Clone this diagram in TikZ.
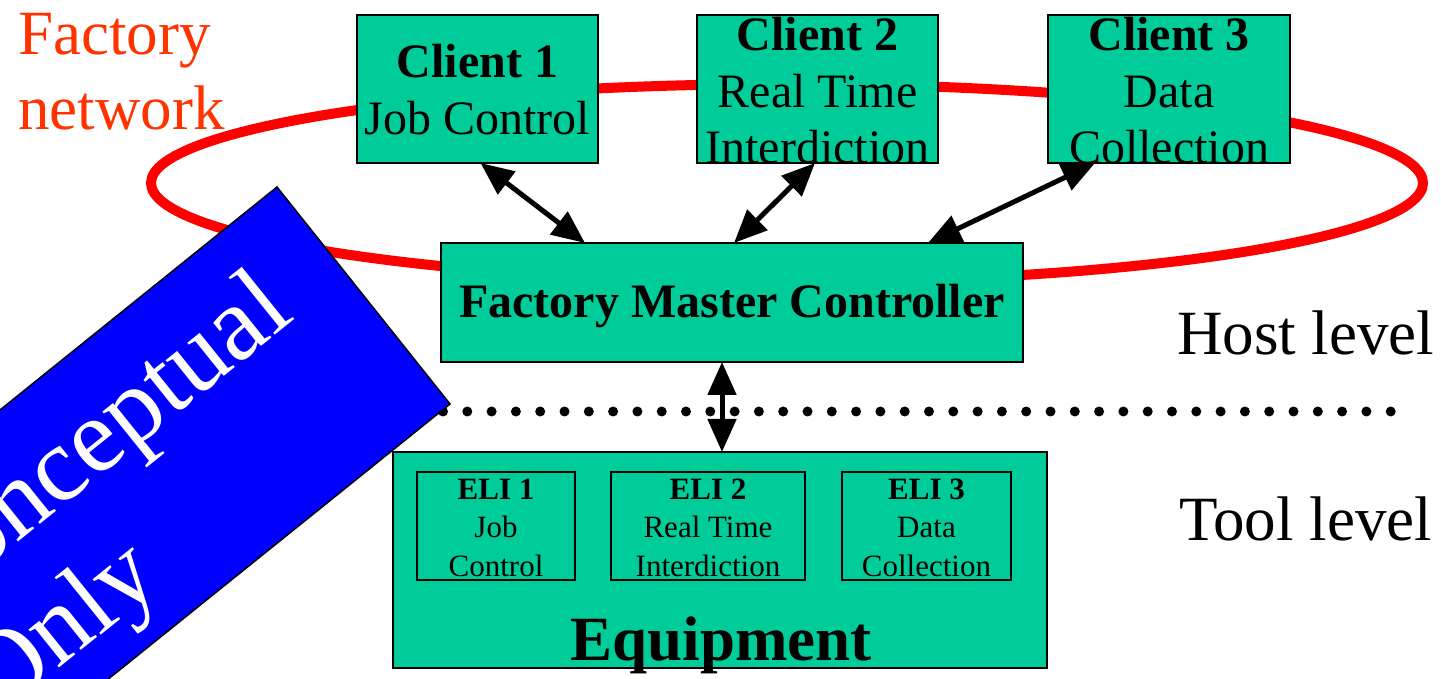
\documentclass[tikz,border=0pt]{standalone}
\usepackage{fontspec}
\setmainfont{Liberation Serif}
\usetikzlibrary{arrows.meta,calc}
\definecolor{boxgreen}{RGB}{0,204,153}
\definecolor{netred}{RGB}{255,0,0}
\definecolor{netlabel}{RGB}{255,51,0}
\definecolor{noteblue}{RGB}{0,0,255}
\begin{document}
\begin{tikzpicture}[x=1pt,y=1pt,
  box/.style={draw=black, line width=2pt, fill=boxgreen, inner sep=0pt, outer sep=0pt},
  bigtxt/.style={anchor=base, inner sep=0pt, font=\fontsize{48}{57}\selectfont},
  bigbold/.style={anchor=base, inner sep=0pt, font=\fontsize{48}{57}\selectfont\bfseries},
  elitxt/.style={anchor=base, inner sep=0pt, font=\fontsize{31}{37}\selectfont},
  elibold/.style={anchor=base, inner sep=0pt, font=\fontsize{31}{37}\selectfont\bfseries},
  sidetxt/.style={anchor=base west, inner sep=0pt, font=\fontsize{63}{75}\selectfont},
  dbl/.style={line width=5pt, {Triangle[length=33pt,width=28pt]}-{Triangle[length=33pt,width=28pt]}},
  notetxt/.style={anchor=base west, inner sep=0pt, rotate=38.8, text=white, font=\fontsize{106}{125}\selectfont}
]
\useasboundingbox (0,0) rectangle (1441,678);
\clip (0,0) rectangle (1441,678);

% factory network ring
\draw[netred, line width=10pt] (787,495) ellipse [x radius=636pt, y radius=99pt];

% dotted separator
\coordinate (dotA) at (443,266.5);
\coordinate (dotB) at (1391,266.5);
\draw[line width=10pt, line cap=round, dash pattern=on 0pt off 24.3pt] (dotA) -- (dotB);

% client boxes
\node[box, minimum width=241pt, minimum height=148pt] (c1) at (477.5,589) {};
\node[box, minimum width=241pt, minimum height=148pt] (c2) at (817.5,589) {};
\node[box, minimum width=242pt, minimum height=148pt] (c3) at (1169,589) {};
\node[bigbold] (c1a) at (477.5,600) {Client 1};
\node[bigtxt]  (c1b) at (477.5,543) {Job Control};
\node[bigbold] (c2a) at (817.5,627) {Client 2};
\node[bigtxt]  (c2b) at (817.5,570) {Real Time};
\node[bigtxt]  (c2c) at (817.5,514) {Interdiction};
\node[bigbold] (c3a) at (1169,627) {Client 3};
\node[bigtxt]  (c3b) at (1169,570) {Data};
\node[bigtxt]  (c3c) at (1169,514) {Collection};

% factory master controller
\node[box, minimum width=582pt, minimum height=119pt] (fmc) at (732,375.5) {};
\node[bigbold] (fmct) at (732,360) {Factory Master Controller};

% equipment
\node[box, minimum width=654pt, minimum height=216pt] (eq) at (720,118) {};
\node[box, minimum width=158pt, minimum height=108pt] (e1) at (496,152) {};
\node[box, minimum width=194pt, minimum height=108pt] (e2) at (708,152) {};
\node[box, minimum width=169pt, minimum height=108pt] (e3) at (926.5,152) {};
\node[elibold] (e1a) at (496,178) {ELI 1};
\node[elitxt]  (e1b) at (496,140) {Job};
\node[elitxt]  (e1c) at (496,102) {Control};
\node[elibold] (e2a) at (708,178) {ELI 2};
\node[elitxt]  (e2b) at (708,140) {Real Time};
\node[elitxt]  (e2c) at (708,102) {Interdiction};
\node[elibold] (e3a) at (926.5,178) {ELI 3};
\node[elitxt]  (e3b) at (926.5,140) {Data};
\node[elitxt]  (e3c) at (926.5,102) {Collection};
\node[anchor=base, inner sep=0pt, font=\fontsize{63}{75}\selectfont\bfseries] (eqt) at (721,18) {Equipment};

% side labels
\node[sidetxt, text=netlabel] (fn1) at (18,623) {Factory};
\node[sidetxt, text=netlabel] (fn2) at (18,548) {network};
\node[sidetxt] (host) at (1177,323) {Host level};
\node[sidetxt] (tool) at (1179,137) {Tool level};

% connectors
\draw[dbl] ([xshift=3pt]c1.south) -- ([xshift=-147pt]fmc.north);
\draw[dbl] ([xshift=-2.5pt]c2.south) -- ([xshift=2pt]fmc.north);
\draw[dbl] ([xshift=-74pt]c3.south) -- ([xshift=196pt]fmc.north);
\draw[dbl] ([xshift=-10pt]fmc.south) -- ([xshift=2pt]eq.north);

% conceptual-only banner
\draw[fill=noteblue, draw=black, line width=1.5pt]
  (277,491) -- (450,274) -- ++(-444,-357.4) -- ++(-173,217) -- cycle;
\node[notetxt] (n1) at (-80,57) {Conceptual};
\node[notetxt] (n2) at (-2,-40) {Only};
\end{tikzpicture}
\end{document}
